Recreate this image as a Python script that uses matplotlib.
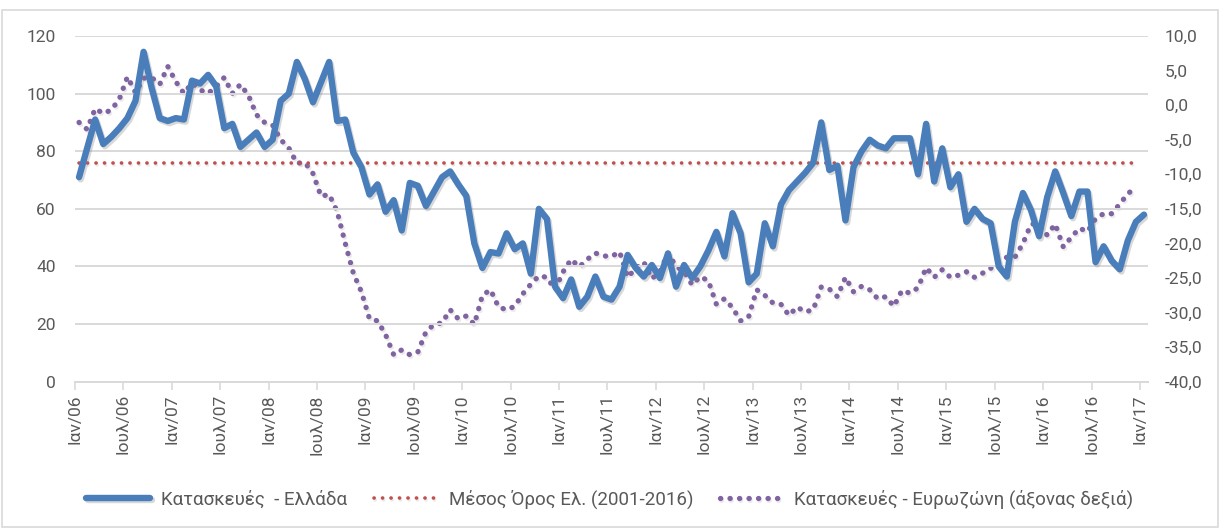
import matplotlib
matplotlib.use("Agg")
import matplotlib.pyplot as plt
import matplotlib.patheffects as pe
from matplotlib.patches import Rectangle
import numpy as np

# ---------------- data ----------------
greece = [
    71, 81, 91, 82.5, 85, 88, 91.5, 97.5, 114.5, 102, 91.5, 90.5,          # 2006
    91.5, 91, 104.5, 103.5, 106.5, 102.5, 88, 89.5, 81.5, 84, 86.5, 81.5,  # 2007
    84, 97.5, 100, 111, 105, 97, 104, 111, 90.5, 91, 79.5, 74.5,           # 2008
    65, 68.5, 59, 63, 52.5, 69, 68, 61, 66, 71, 73, 68.5,                 # 2009
    64.5, 48, 39.5, 45, 44.5, 51.5, 46, 48, 37.5, 60, 56.5, 33,           # 2010
    29, 35.5, 26, 29.5, 36.5, 29.5, 28.5, 33, 44, 39.5, 36.5, 40.5,       # 2011
    36, 44.5, 33, 40.5, 36, 40, 45.5, 52, 43.5, 58.5, 51.5, 34.5,         # 2012
    37.5, 55, 47, 61.5, 66.5, 69.5, 72.5, 76, 90, 73.5, 75, 56,           # 2013
    74.5, 80, 84, 82, 81, 84.5, 84.5, 84.5, 72, 89.5, 69.5, 81,           # 2014
    67.5, 72, 55.5, 60, 56.5, 55, 40, 36.5, 55.5, 65.5, 59.5, 50.5,       # 2015
    64, 73, 65.5, 57.5, 66, 66, 41.5, 47, 42, 39, 49, 55.5,               # 2016
    58,                                                                   # 2017
]
eurozone = [
    -2.5, -3.5, -0.5, -1.2, -0.7, 0.9, 4.1, 1.8, 3.9, 4.0, 3.0, 5.6,
    3.4, 1.7, 3.2, 2.2, 1.7, 2.7, 4.0, 1.7, 3.0, 1.4, -1.4, -2.5,
    -2.9, -5.0, -6.2, -8.4, -8.3, -9.9, -13.2, -12.9, -15.4, -20.0, -24.3, -27.0,
    -30.9, -31.2, -33.2, -36.1, -35.4, -36.1, -35.7, -32.8, -31.7, -31.5, -29.6, -30.9,
    -30.5, -31.7, -27.5, -26.7, -29.2, -29.6, -29.1, -27.3, -25.9, -24.7, -24.9, -26.7,
    -24.1, -22.3, -23.4, -22.3, -21.4, -21.8, -21.9, -21.2, -24.9, -23.6, -22.7, -25.1,
    -24.1, -21.4, -23.3, -24.1, -26.0, -24.8, -25.4, -28.8, -28.0, -29.3, -31.2, -30.6,
    -26.7, -27.5, -28.6, -28.8, -30.4, -29.2, -29.9, -29.6, -26.3, -26.6, -27.7, -24.9,
    -27.0, -26.2, -26.7, -28.0, -27.7, -29.1, -26.8, -27.2, -26.4, -23.5, -24.9, -23.8,
    -24.9, -24.6, -24.1, -24.9, -24.3, -23.6, -22.7, -22.0, -22.0, -20.0, -17.2, -17.2,
    -18.8, -17.2, -20.5, -19.1, -17.8, -18.3, -16.4, -15.7, -15.7, -14.3, -12.8, -11.9,
]
mean_value = 76.0
mean_len = 132

month_names = ["Ιαν", "Ιουλ"]
years = ["06", "07", "08", "09", "10", "11", "12", "13", "14", "15", "16", "17"]
tick_labels = []
for y in years:
    for m in month_names:
        tick_labels.append(f"{m}/{y}")
tick_labels = tick_labels[:23]

left_ticks = [0, 20, 40, 60, 80, 100, 120]
right_ticks = [10, 5, 0, -5, -10, -15, -20, -25, -30, -35, -40]

legend_labels = ["Κατασκευές  - Ελλάδα", "Μέσος Όρος Ελ. (2001-2016)",
                 "Κατασκευές - Ευρωζώνη (άξονας δεξιά)"]

# ---------------- style ----------------
FONT = ["Roboto", "DejaVu Sans"]
plt.rcParams["font.family"] = FONT
TXT = "#595959"
BLUE = "#4A7EBB"
RED = "#C0504D"
PURPLE = "#8064A2"
GRID = "#D9D9D9"

W, H = 1220, 529
fig = plt.figure(figsize=(W / 100, H / 100), dpi=100)
ax = fig.add_axes([75 / W, 1 - 381.7 / H, (1148 - 75) / W, (381.7 - 36) / H])
ax2 = ax.twinx()

x_g = np.arange(len(greece))
x_e = np.arange(len(eurozone))
x_m = np.arange(mean_len)

shadow_b = [pe.SimpleLineShadow(offset=(1.2, -1.6), shadow_color="#7f7f7f", alpha=0.3), pe.Normal()]
shadow_d = [pe.SimpleLineShadow(offset=(1.0, -1.4), shadow_color="#9f9f9f", alpha=0.2), pe.Normal()]

ax.plot(x_g, greece, color=BLUE, lw=4.6, solid_joinstyle="round",
        solid_capstyle="round", zorder=3, path_effects=shadow_b,
        label=legend_labels[0])
ax.plot(x_m, [mean_value] * mean_len, color=RED, lw=2.6, linestyle=(0, (0.05, 2.3)),
        dash_capstyle="round", zorder=2, path_effects=shadow_d, label=legend_labels[1])
ax2.plot(x_e, eurozone, color=PURPLE, lw=3.8, linestyle=(0, (0.05, 1.75)),
         dash_capstyle="round", zorder=2, path_effects=shadow_d, label=legend_labels[2])

ax.set_xlim(-0.5, len(greece) - 0.5)
ax.set_ylim(0, 120)
ax2.set_ylim(-40, 10)

ax.set_yticks(left_ticks)
ax.set_yticklabels([str(v) for v in left_ticks])
ax2.set_yticks(right_ticks)
ax2.set_yticklabels([f"{v:.1f}".replace(".", ",") for v in right_ticks])

xt = [i * 6 - 0.5 for i in range(len(tick_labels))]
ax.set_xticks(xt)
ax.set_xticklabels(tick_labels, rotation=90, fontsize=12.5, color=TXT)

ax.grid(axis="y", color=GRID, lw=1.4)
ax.set_axisbelow(True)
for a in (ax, ax2):
    for s in ("top", "left", "right"):
        a.spines[s].set_visible(False)
ax.spines["bottom"].set_color(GRID)
ax.spines["bottom"].set_linewidth(1.4)
ax2.spines["bottom"].set_visible(False)

ax.tick_params(axis="x", length=6, width=1.2, color=GRID, pad=3)
ax.tick_params(axis="y", length=0, pad=14, labelsize=12.5, labelcolor=TXT)
ax2.tick_params(axis="y", length=0, pad=12, labelsize=12.5, labelcolor=TXT)

ax.set_zorder(ax2.get_zorder() + 1)
ax.patch.set_visible(False)

h1, l1 = ax.get_legend_handles_labels()
h2, l2 = ax2.get_legend_handles_labels()
leg = fig.legend(h1 + h2, l1 + l2, loc="center", bbox_to_anchor=(0.5, 1 - 499 / H),
                 ncol=3, frameon=False, fontsize=13.5, handlelength=3.4,
                 columnspacing=1.4, handletextpad=0.6)
for t in leg.get_texts():
    t.set_color(TXT)

# chart border
fig.patches.append(Rectangle((2 / W, 2 / H), (W - 4) / W, (H - 12) / H,
                             transform=fig.transFigure, fill=False,
                             edgecolor="#D9D9D9", lw=1.2))

fig.savefig("out.png", dpi=100)
